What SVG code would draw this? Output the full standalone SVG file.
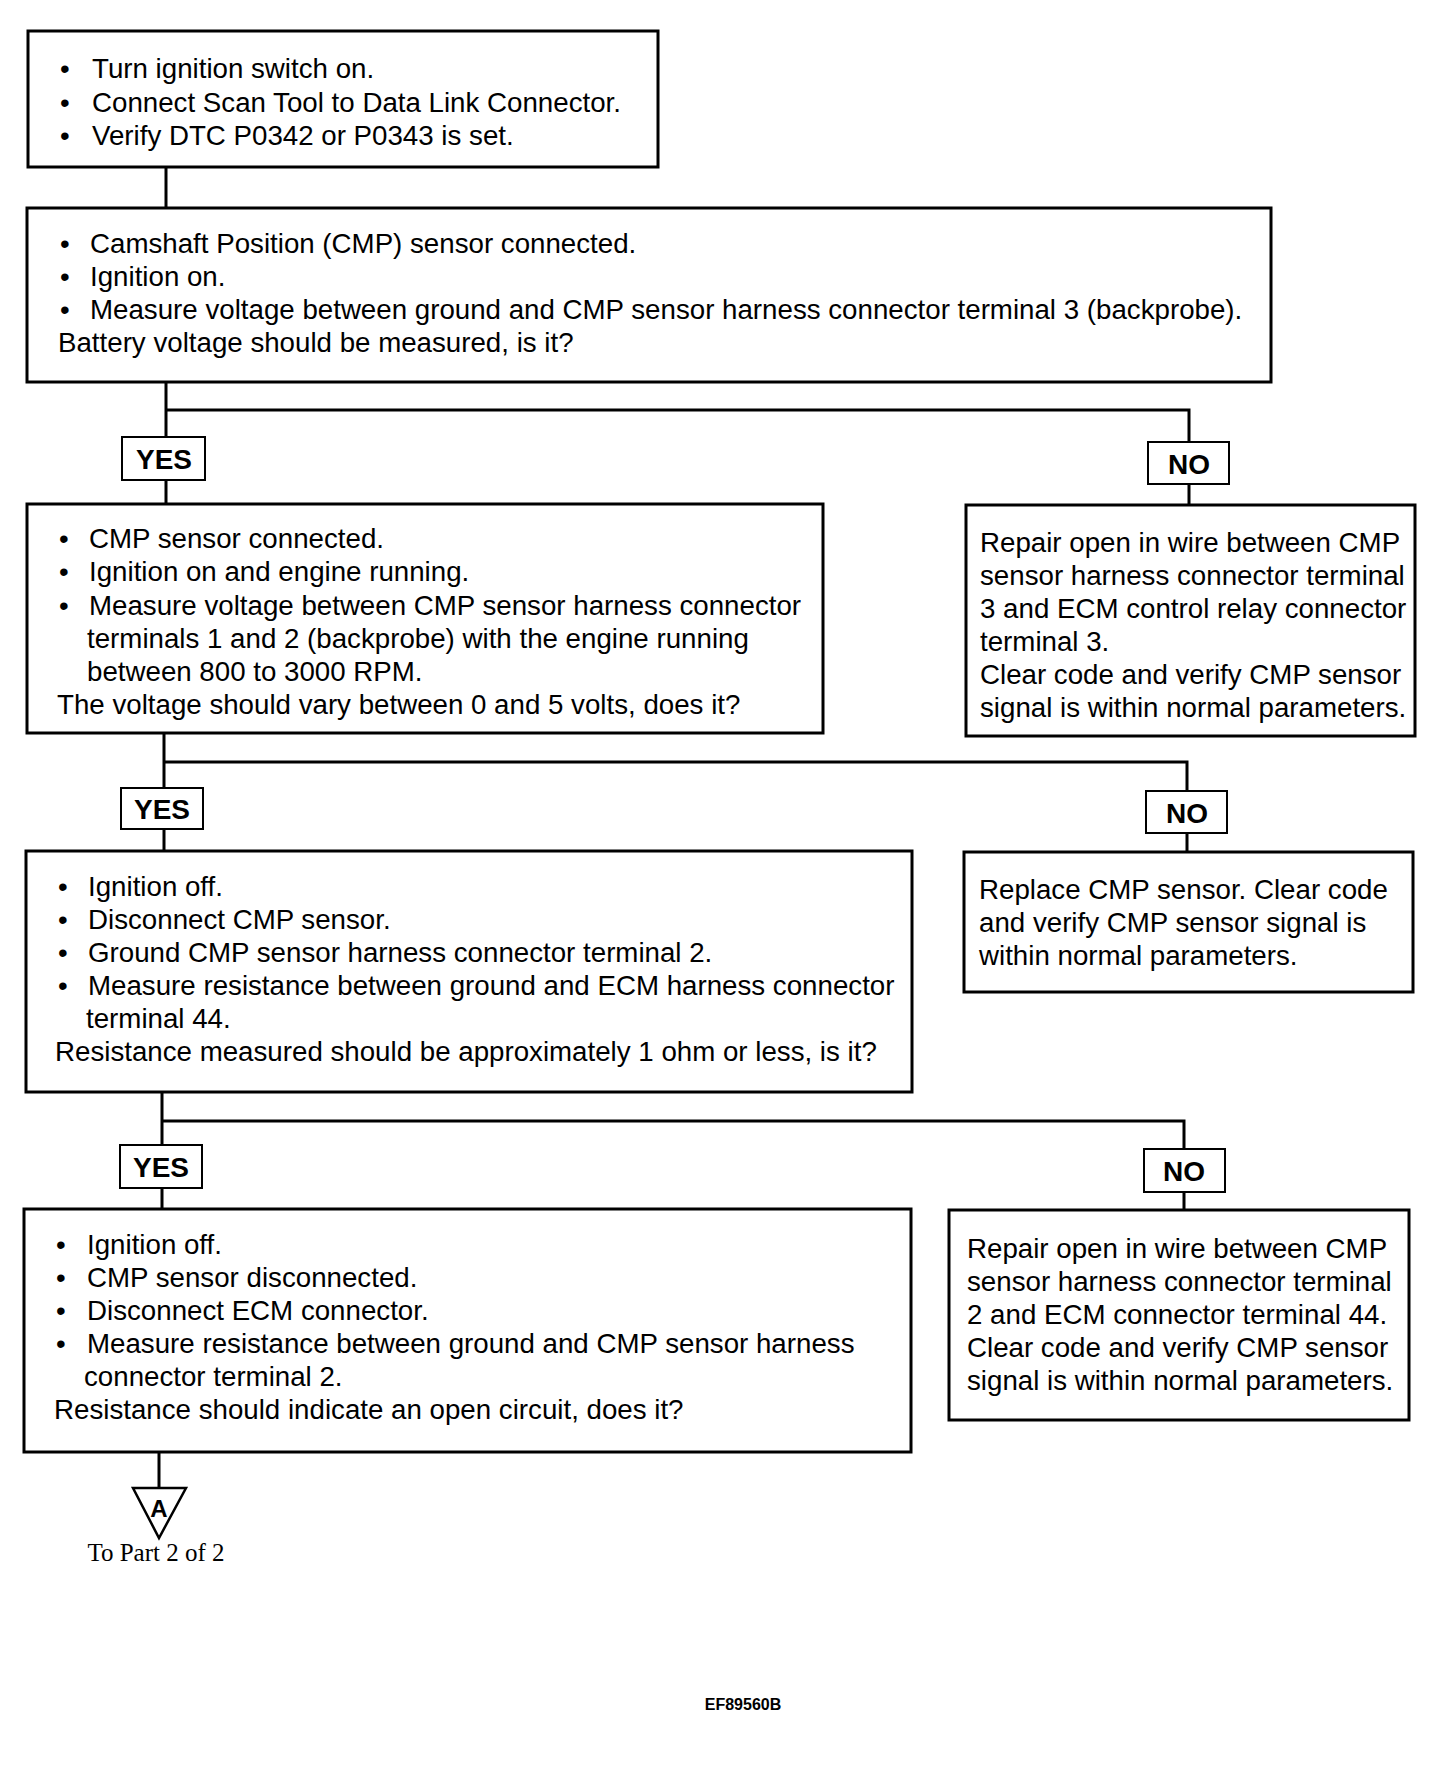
<svg xmlns="http://www.w3.org/2000/svg" width="1456" height="1772" viewBox="0 0 1456 1772">
<style>
.box{fill:#fff;stroke:#000;stroke-width:3}
.lbl{fill:#fff;stroke:#000;stroke-width:2}
.t{font-family:"Liberation Sans",Arial,sans-serif;font-size:27.7px;fill:#000}
.yn{font-family:"Liberation Sans",Arial,sans-serif;font-size:28px;font-weight:bold;fill:#000;text-anchor:middle}
.ln{fill:none;stroke:#000;stroke-width:3}
</style>
<rect width="1456" height="1772" fill="#fff"/>
<g id="connectors">
<path class="ln" d="M166 167V208"/>
<path class="ln" d="M166 382V504M166 410H1189V505"/>
<path class="ln" d="M164 733V851M164 762H1187V852"/>
<path class="ln" d="M162 1092V1209M162 1121H1184V1210"/>
<path class="ln" d="M159 1452V1487"/>
</g>
<g id="n1">
<rect class="box" x="28" y="31" width="630" height="136"/>
<text class="t"><tspan x="60" y="78">•</tspan><tspan x="92" y="78">Turn ignition switch on.</tspan></text>
<text class="t"><tspan x="60" y="112">•</tspan><tspan x="92" y="112">Connect Scan Tool to Data Link Connector.</tspan></text>
<text class="t"><tspan x="60" y="145">•</tspan><tspan x="92" y="145">Verify DTC P0342 or P0343 is set.</tspan></text>
</g>
<g id="n2">
<rect class="box" x="27" y="208" width="1244" height="174"/>
<text class="t"><tspan x="60" y="253">•</tspan><tspan x="90" y="253">Camshaft Position (CMP) sensor connected.</tspan></text>
<text class="t"><tspan x="60" y="286">•</tspan><tspan x="90" y="286">Ignition on.</tspan></text>
<text class="t"><tspan x="60" y="319">•</tspan><tspan x="90" y="319">Measure voltage between ground and CMP sensor harness connector terminal 3 (backprobe).</tspan></text>
<text class="t" x="58" y="352">Battery voltage should be measured, is it?</text>
</g>
<g id="yes1">
<rect class="lbl" x="122" y="437" width="83" height="43"/>
<text class="yn" x="164" y="469">YES</text>
</g>
<g id="no1">
<rect class="lbl" x="1148" y="442" width="81" height="42"/>
<text class="yn" x="1189" y="474">NO</text>
</g>
<g id="n3">
<rect class="box" x="27" y="504" width="796" height="229"/>
<text class="t"><tspan x="59" y="548">•</tspan><tspan x="89" y="548">CMP sensor connected.</tspan></text>
<text class="t"><tspan x="59" y="581">•</tspan><tspan x="89" y="581">Ignition on and engine running.</tspan></text>
<text class="t"><tspan x="59" y="615">•</tspan><tspan x="89" y="615">Measure voltage between CMP sensor harness connector</tspan></text>
<text class="t" x="87" y="648">terminals 1 and 2 (backprobe) with the engine running</text>
<text class="t" x="87" y="681">between 800 to 3000 RPM.</text>
<text class="t" x="57" y="714">The voltage should vary between 0 and 5 volts, does it?</text>
</g>
<g id="r1">
<rect class="box" x="966" y="505" width="449" height="231"/>
<text class="t" x="980" y="552">Repair open in wire between CMP</text>
<text class="t" x="980" y="585">sensor harness connector terminal</text>
<text class="t" x="980" y="618">3 and ECM control relay connector</text>
<text class="t" x="980" y="651">terminal 3.</text>
<text class="t" x="980" y="684">Clear code and verify CMP sensor</text>
<text class="t" x="980" y="717">signal is within normal parameters.</text>
</g>
<g id="yes2">
<rect class="lbl" x="121" y="788" width="82" height="41"/>
<text class="yn" x="162" y="819">YES</text>
</g>
<g id="no2">
<rect class="lbl" x="1146" y="791" width="81" height="42"/>
<text class="yn" x="1187" y="823">NO</text>
</g>
<g id="n4">
<rect class="box" x="26" y="851" width="886" height="241"/>
<text class="t"><tspan x="58" y="896">•</tspan><tspan x="88" y="896">Ignition off.</tspan></text>
<text class="t"><tspan x="58" y="929">•</tspan><tspan x="88" y="929">Disconnect CMP sensor.</tspan></text>
<text class="t"><tspan x="58" y="962">•</tspan><tspan x="88" y="962">Ground CMP sensor harness connector terminal 2.</tspan></text>
<text class="t"><tspan x="58" y="995">•</tspan><tspan x="88" y="995">Measure resistance between ground and ECM harness connector</tspan></text>
<text class="t" x="86" y="1028">terminal 44.</text>
<text class="t" x="55" y="1061">Resistance measured should be approximately 1 ohm or less, is it?</text>
</g>
<g id="r2">
<rect class="box" x="964" y="852" width="449" height="140"/>
<text class="t" x="979" y="899">Replace CMP sensor. Clear code</text>
<text class="t" x="979" y="932">and verify CMP sensor signal is</text>
<text class="t" x="979" y="965">within normal parameters.</text>
</g>
<g id="yes3">
<rect class="lbl" x="120" y="1145" width="82" height="43"/>
<text class="yn" x="161" y="1177">YES</text>
</g>
<g id="no3">
<rect class="lbl" x="1144" y="1149" width="81" height="43"/>
<text class="yn" x="1184" y="1181">NO</text>
</g>
<g id="n5">
<rect class="box" x="24" y="1209" width="887" height="243"/>
<text class="t"><tspan x="56" y="1254">•</tspan><tspan x="87" y="1254">Ignition off.</tspan></text>
<text class="t"><tspan x="56" y="1287">•</tspan><tspan x="87" y="1287">CMP sensor disconnected.</tspan></text>
<text class="t"><tspan x="56" y="1320">•</tspan><tspan x="87" y="1320">Disconnect ECM connector.</tspan></text>
<text class="t"><tspan x="56" y="1353">•</tspan><tspan x="87" y="1353">Measure resistance between ground and CMP sensor harness</tspan></text>
<text class="t" x="84" y="1386">connector terminal 2.</text>
<text class="t" x="54" y="1419">Resistance should indicate an open circuit, does it?</text>
</g>
<g id="r3">
<rect class="box" x="949" y="1210" width="460" height="210"/>
<text class="t" x="967" y="1258">Repair open in wire between CMP</text>
<text class="t" x="967" y="1291">sensor harness connector terminal</text>
<text class="t" x="967" y="1324">2 and ECM connector terminal 44.</text>
<text class="t" x="967" y="1357">Clear code and verify CMP sensor</text>
<text class="t" x="967" y="1390">signal is within normal parameters.</text>
</g>
<g id="connA">
<path d="M133 1488H186L159 1538Z" fill="#fff" stroke="#000" stroke-width="2.5"/>
<text x="159" y="1517" font-family="Liberation Sans,Arial,sans-serif" font-size="24" font-weight="bold" text-anchor="middle">A</text>
<text x="156" y="1561" font-family="Liberation Serif,Times New Roman,serif" font-size="25" text-anchor="middle">To Part 2 of 2</text>
</g>
<text x="743" y="1710" font-family="Liberation Sans,Arial,sans-serif" font-size="16" font-weight="bold" text-anchor="middle">EF89560B</text>
</svg>
